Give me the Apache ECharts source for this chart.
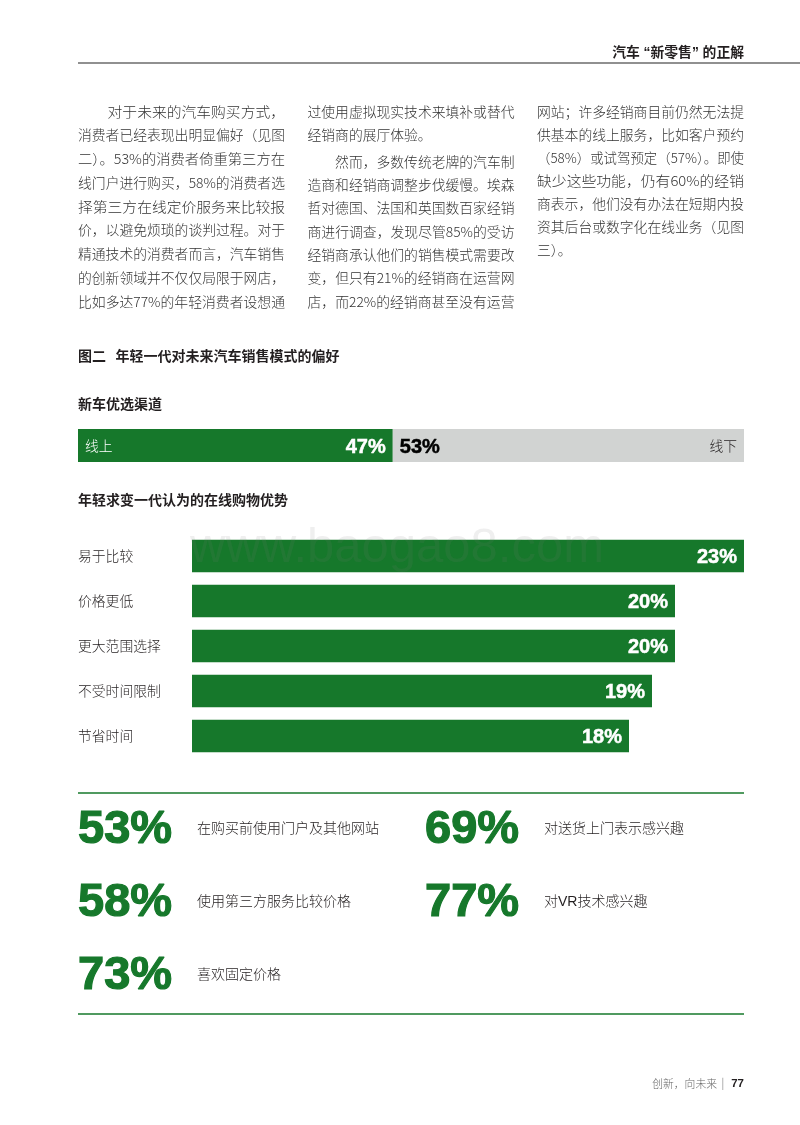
<!DOCTYPE html>
<html>
<head>
<meta charset="utf-8">
<title>图二 年轻一代对未来汽车销售模式的偏好</title>
<script src="https://cdn.jsdelivr.net/npm/echarts@6/dist/echarts.min.js"></script>
<style>
  html, body { margin: 0; padding: 0; background: #fff; }
  #main { width: 800px; height: 1125px; }
</style>
</head>
<body>
<div id="main"></div>
<script>
// 数据
const channelNames = ['线上', '线下']
const channelValues = [47, 53]
const advantageNames = ['易于比较', '价格更低', '更大范围选择', '不受时间限制', '节省时间']
const advantageValues = [23, 20, 20, 19, 18]
const statValues = ['53%', '58%', '73%', '69%', '77%']
const statLabels = ['在购买前使用门户及其他网站', '使用第三方服务比较价格', '喜欢固定价格', '对送货上门表示感兴趣', '对VR技术感兴趣']

const pageTitle = '汽车 “新零售” 的正解'
const figureTitle = '图二   年轻一代对未来汽车销售模式的偏好'
const channelTitle = '新车优选渠道'
const advantageTitle = '年轻求变一代认为的在线购物优势'
const watermark = 'www.baogao8.com'
const column1 = [
  '　　对于未来的汽车购买方式，',
  '消费者已经表现出明显偏好（见图',
  '二）。53%的消费者倚重第三方在',
  '线门户进行购买，58%的消费者选',
  '择第三方在线定价服务来比较报',
  '价，以避免烦琐的谈判过程。对于',
  '精通技术的消费者而言，汽车销售',
  '的创新领域并不仅仅局限于网店，',
  '比如多达77%的年轻消费者设想通'
]
const column2a = ['过使用虚拟现实技术来填补或替代', '经销商的展厅体验。']
const column2b = [
  '　　然而，多数传统老牌的汽车制',
  '造商和经销商调整步伐缓慢。埃森',
  '哲对德国、法国和英国数百家经销',
  '商进行调查，发现尽管85%的受访',
  '经销商承认他们的销售模式需要改',
  '变，但只有21%的经销商在运营网',
  '店，而22%的经销商甚至没有运营'
]
const column3 = [
  '网站；许多经销商目前仍然无法提',
  '供基本的线上服务，比如客户预约',
  '（58%）或试驾预定（57%）。即使',
  '缺少这些功能，仍有60%的经销',
  '商表示，他们没有办法在短期内投',
  '资其后台或数字化在线业务（见图',
  '三）。'
]

const GREEN = '#16782b'
const GRAY = '#d1d3d2'
const CJK = '"Noto Sans CJK SC"'
const LATIN_FIRST = '"Liberation Sans", "Noto Sans CJK SC"'
const BODY_FONT = '300 13.8px ' + CJK
const BODY_WIDTH = 207
const HEAVY = 'bold 20px "Liberation Sans", sans-serif'

const measure = document.createElement('canvas').getContext('2d')

function text(x, y, str, font, fill, align) {
  return {
    type: 'text',
    x: x,
    y: y,
    z: 100,
    silent: true,
    style: {
      text: str,
      font: font,
      fill: fill || '#231f20',
      align: align || 'left',
      textAlign: align || 'left',
      verticalAlign: 'middle',
      textVerticalAlign: 'middle'
    }
  }
}

function rule(x1, x2, y, color, width) {
  return {
    type: 'line',
    silent: true,
    shape: { x1: x1, y1: y, x2: x2, y2: y },
    style: { stroke: color, lineWidth: width }
  }
}

// 正文两端对齐：整行按栏宽微调，段尾短行不动
function bodyLines(lines, x, y, step, lastShort) {
  measure.font = BODY_FONT
  return lines.map((s, i) => {
    const el = text(x, y + i * step, s, BODY_FONT, '#333')
    if (!(lastShort && i === lines.length - 1)) {
      el.originX = 0
      el.scaleX = BODY_WIDTH / measure.measureText(s).width
    }
    return el
  })
}

let elements = [
  rule(78, 800, 63, '#222', 1.2),
  text(744, 53, pageTitle, 'bold 13.8px ' + LATIN_FIRST, '#231f20', 'right'),
  text(78, 356, figureTitle, 'bold 14px ' + CJK),
  text(78, 404, channelTitle, 'bold 14px ' + CJK),
  text(78, 500, advantageTitle, 'bold 14px ' + CJK),
  // 线上 / 线下
  text(85, 446, channelNames[0], '300 13.8px ' + CJK, '#fff'),
  text(737, 446, channelNames[1], '300 13.8px ' + CJK, '#231f20', 'right'),
  rule(78, 744, 793, GREEN, 1.5),
  rule(78, 744, 1014, GREEN, 1.5),
  text(717, 1084, '创新，向未来', '300 10.8px ' + CJK, '#666', 'right'),
  text(723, 1083, '|', '300 11px ' + CJK, '#666', 'center'),
  text(744, 1084, '77', 'bold 11.5px "Liberation Sans", sans-serif', '#231f20', 'right')
]
elements = elements.concat(
  bodyLines(column1, 78, 111.5, 23.75, false),
  bodyLines(column2a, 307.5, 111.5, 23.4, true),
  bodyLines(column2b, 307.5, 161.5, 23.33, false),
  bodyLines(column3, 537, 111.5, 23.1, true)
)
// 三行两列的数字
statValues.forEach((v, i) => {
  const col = i < 3 ? 0 : 1
  const row = col ? i - 3 : i
  const y = 829 + row * 73
  const num = text(col ? 425 : 78, y + 1.5, v, 'bold 47px "Liberation Sans", sans-serif', GREEN)
  num.style.stroke = GREEN
  num.style.lineWidth = 1.2
  elements.push(num)
  elements.push(text(col ? 544 : 197, y, statLabels[i], '300 14px ' + LATIN_FIRST, '#231f20'))
})
// 水印
elements.push(text(190, 548, watermark, '49px "Liberation Sans", sans-serif', 'rgba(120,120,120,0.12)'))

// 条形从坐标轴最左端画起（原图的条形起点略左于0）
function barRender(axisMin, heightPx, fill, labelFill, labelPos) {
  return function (params, api) {
    const from = api.value(0)
    const to = api.value(1)
    const cat = api.value(2)
    const a = api.coord([from === 0 ? axisMin : from, cat])
    const b = api.coord([to, cat])
    return {
      type: 'rect',
      shape: { x: a[0], y: a[1] - heightPx / 2, width: b[0] - a[0], height: heightPx },
      style: { fill: fill },
      textContent: {
        z2: 5,
        style: {
          text: (to - from) + '%',
          font: HEAVY,
          fill: labelFill,
          stroke: labelFill,
          lineWidth: 0.5
        }
      },
      textConfig: { position: labelPos, distance: 7, offset: [0, 1.5] }
    }
  }
}

const chart = echarts.init(document.getElementById('main'), null, { width: 800, height: 1125 })

chart.setOption({
  backgroundColor: '#fff',
  animation: false,
  graphic: { elements: elements },
  grid: [
    { left: 78, width: 666, top: 429, height: 33 },
    { left: 192, width: 552, top: 533.5, height: 225 }
  ],
  xAxis: [
    { gridIndex: 0, type: 'value', min: -0.5, max: 100, show: false },
    { gridIndex: 1, type: 'value', min: -1, max: 23, show: false }
  ],
  yAxis: [
    { gridIndex: 0, type: 'category', data: [channelTitle], show: false },
    {
      gridIndex: 1,
      type: 'category',
      inverse: true,
      data: advantageNames,
      axisLine: { show: false },
      axisTick: { show: false },
      axisLabel: {
        margin: 114,
        align: 'left',
        fontFamily: CJK,
        fontWeight: 300,
        fontSize: 13.8,
        color: '#231f20'
      }
    }
  ],
  series: [
    {
      name: channelNames[0],
      type: 'custom',
      xAxisIndex: 0,
      yAxisIndex: 0,
      encode: { x: [0, 1], y: 2 },
      renderItem: barRender(-0.5, 33, GREEN, '#fff', 'insideRight'),
      data: [[0, channelValues[0], 0]]
    },
    {
      name: channelNames[1],
      type: 'custom',
      xAxisIndex: 0,
      yAxisIndex: 0,
      encode: { x: [0, 1], y: 2 },
      renderItem: barRender(-0.5, 33, GRAY, '#000', 'insideLeft'),
      data: [[channelValues[0], channelValues[0] + channelValues[1], 0]]
    },
    {
      name: '在线购物优势',
      type: 'custom',
      xAxisIndex: 1,
      yAxisIndex: 1,
      encode: { x: [0, 1], y: 2 },
      renderItem: barRender(-1, 32.5, GREEN, '#fff', 'insideRight'),
      data: advantageValues.map((v, i) => [0, v, i])
    }
  ]
})
</script>
</body>
</html>
